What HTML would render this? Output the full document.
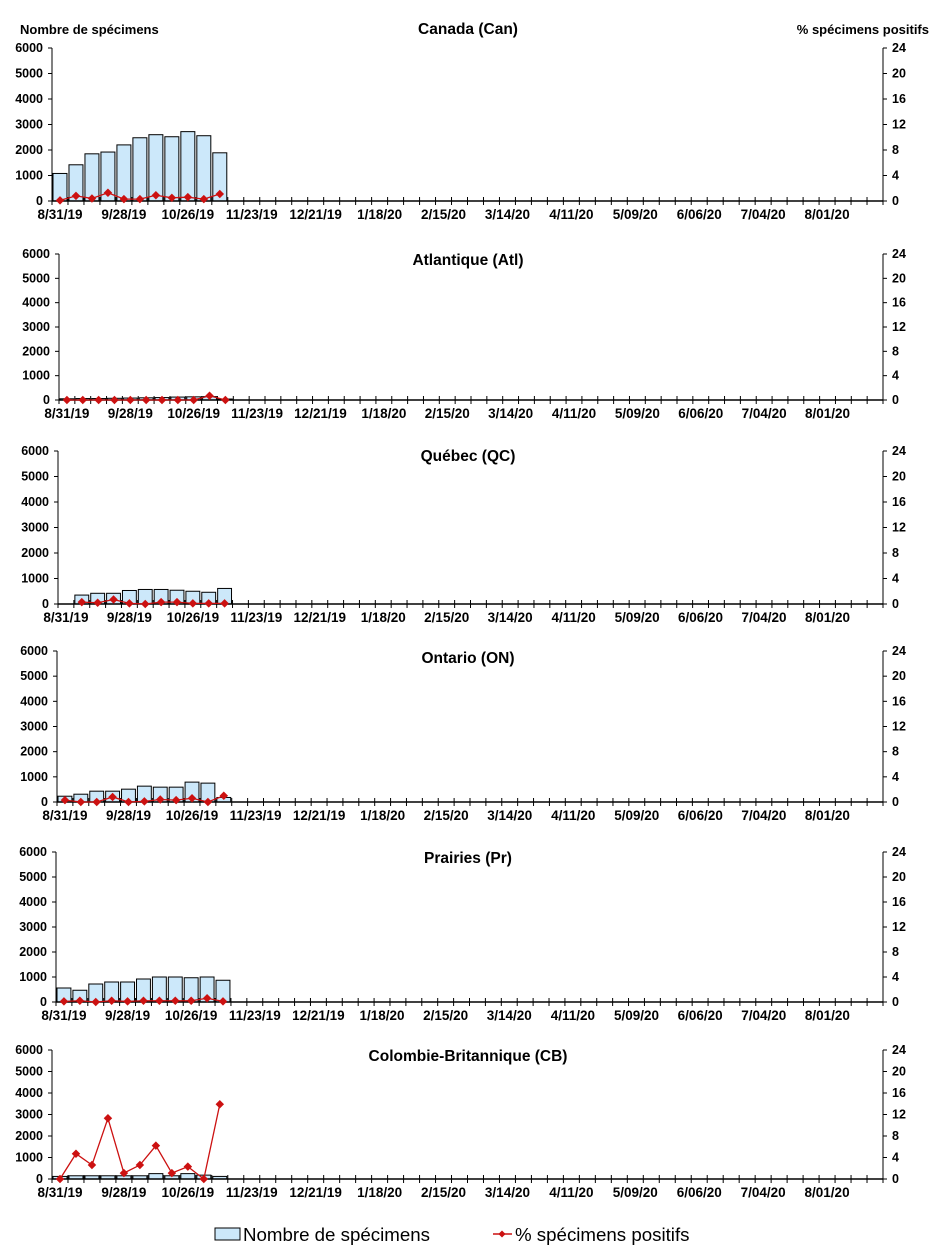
<!DOCTYPE html>
<html><head><meta charset="utf-8">
<style>
html,body{margin:0;padding:0;background:#fff;}
svg{display:block;font-family:"Liberation Sans",Arial,sans-serif;}
</style></head>
<body>
<svg id="chart" width="935" height="1257" viewBox="0 0 935 1257" xmlns="http://www.w3.org/2000/svg">
<text x="20" y="34" font-size="13" font-weight="bold">Nombre de spécimens</text>
<text x="929" y="34" font-size="13" font-weight="bold" text-anchor="end">% spécimens positifs</text>
<g>
<rect x="215" y="1228" width="25" height="12" fill="#cce8fa" stroke="#000" stroke-width="1"/>
<text x="243" y="1241" font-size="18.7">Nombre de spécimens</text>
<line x1="493" y1="1234" x2="512" y2="1234" stroke="#cc1111" stroke-width="1.5"/>
<rect x="499.5" y="1231.5" width="5" height="5" fill="#cc1111" transform="rotate(45 502 1234)"/>
<text x="515" y="1241" font-size="18.7">% spécimens positifs</text>
</g>
</svg>
<script>
const weekLabels = ["8/31/19","9/28/19","10/26/19","11/23/19","12/21/19","1/18/20","2/15/20","3/14/20","4/11/20","5/09/20","6/06/20","7/04/20","8/01/20"];
const leftTicks = [0,1000,2000,3000,4000,5000,6000];
const rightTicks = [0,4,8,12,16,20,24];
const panelTitles = ["Canada (Can)","Atlantique (Atl)","Québec (QC)","Ontario (ON)","Prairies (Pr)","Colombie-Britannique (CB)"];
const canBars = [1080,1420,1850,1920,2200,2480,2600,2520,2720,2560,1890];
const canPct = [0.1,0.8,0.4,1.3,0.3,0.3,0.9,0.5,0.6,0.3,1.1];
const atlBars = [50,60,60,70,80,90,100,120,130,140,40];
const atlPct = [0,0,0,0,0,0,0,0,0,0.7,0];
const qcBars = [0,350,420,420,530,570,570,540,500,460,610];
const qcPct = [null,0.3,0.2,0.7,0.1,0,0.3,0.3,0.1,0.1,0.1];
const onBars = [230,310,430,430,510,630,590,590,790,750,180];
const onPct = [0.3,0,0,0.8,0,0.1,0.4,0.3,0.6,0,1.0];
const prBars = [560,470,720,800,800,920,1000,1000,970,1000,870];
const prPct = [0.1,0.2,0,0.2,0.1,0.2,0.2,0.2,0.2,0.6,0.1];
const cbBars = [120,150,150,150,150,150,250,150,250,180,120];
const cbPct = [0,4.7,2.6,11.3,1.1,2.6,6.2,1.1,2.3,0,13.9];
const allBars = [canBars,atlBars,qcBars,onBars,prBars,cbBars];
const allPct = [canPct,atlPct,qcPct,onPct,prPct,cbPct];
const layout = [
 {l:52,r:883,t:48,b:201,ty:34},
 {l:59,r:883,t:254,b:400,ty:265},
 {l:58,r:883,t:451,b:604,ty:461},
 {l:57,r:883,t:651,b:802,ty:663},
 {l:56,r:883,t:852,b:1002,ty:863},
 {l:52,r:883,t:1050,b:1179,ty:1061}
];
const NW = 52, YMAX = 6000, PMAX = 24;
const NS = "http://www.w3.org/2000/svg";
const svg = document.getElementById('chart');
function mk(tag, attrs, parent){const e=document.createElementNS(NS,tag);for(const k in attrs)e.setAttribute(k,attrs[k]);(parent||svg).appendChild(e);return e;}
layout.forEach((L,pi)=>{
  const g = mk('g',{});
  
  
  const sw = (L.r-L.l)/NW;
  const xs = i => L.l + i*sw;
  const yL = v => L.b - v/YMAX*(L.b-L.t);
  const yR = v => L.b - v/PMAX*(L.b-L.t);
  const tt = mk('text',{x:468,y:L.ty,'font-size':15.5,'font-weight':'bold','text-anchor':'middle'},g);
  tt.textContent = panelTitles[pi];
  
  
  allBars[pi].forEach((v,i)=>{
    if(!v) return;
    const r = mk('rect',{x:xs(i)+1,y:yL(v),width:sw-2,height:L.b-yL(v),fill:'#cce8fa',stroke:'#000','stroke-width':1},g);
    
    
  });
  mk('line',{x1:L.l,y1:L.t,x2:L.l,y2:L.b,stroke:'#000','stroke-width':1},g);
  mk('line',{x1:L.r,y1:L.t,x2:L.r,y2:L.b,stroke:'#000','stroke-width':1},g);
  mk('line',{x1:L.l,y1:L.b,x2:L.r,y2:L.b,stroke:'#000','stroke-width':1.5},g);
  leftTicks.forEach(v=>{
    const y=yL(v);
    mk('line',{x1:L.l-4,y1:y,x2:L.l,y2:y,stroke:'#000'},g);
    const t=mk('text',{x:L.l-9,y:y+4,'font-size':12.5,'font-weight':'bold','text-anchor':'end'},g);
    t.textContent=v;
    
    
  });
  rightTicks.forEach(v=>{
    const y=yR(v);
    mk('line',{x1:L.r,y1:y,x2:L.r+4,y2:y,stroke:'#000'},g);
    const t=mk('text',{x:L.r+9,y:y+4,'font-size':12.5,'font-weight':'bold'},g);
    t.textContent=v;
    
    
  });
  for(let i=0;i<=NW;i++){
    mk('line',{x1:xs(i),y1:L.b-4,x2:xs(i),y2:L.b+4,stroke:'#000'},g);
  }
  weekLabels.forEach((s,k)=>{
    const t=mk('text',{x:xs(k*4)+sw/2,y:L.b+18,'font-size':13.5,'font-weight':'bold','text-anchor':'middle'},g);
    t.textContent=s;
    
    
  });
  const pts=[];
  allPct[pi].forEach((v,i)=>{ if(v!==null) pts.push([xs(i)+sw/2,yR(v)]); });
  const pl = mk('polyline',{points:pts.map(p=>p.join(',')).join(' '),fill:'none',stroke:'#cc1111','stroke-width':1.3},g);
  
  
  pts.forEach(p=>{
    const m=mk('rect',{x:p[0]-3,y:p[1]-3,width:6,height:6,fill:'#cc1111',transform:`rotate(45 ${p[0]} ${p[1]})`},g);
    
    
  });
});
</script>
</body></html>
